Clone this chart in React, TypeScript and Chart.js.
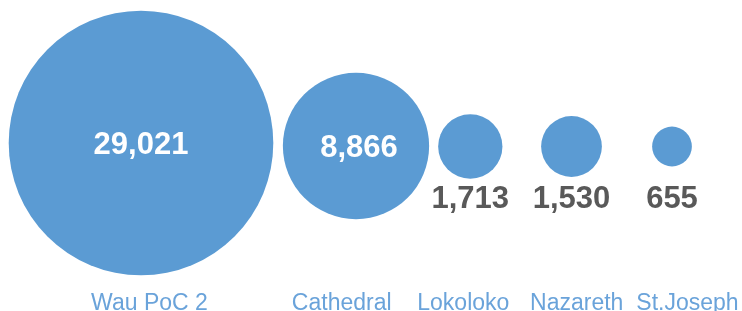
import React, { useEffect, useRef } from "react";
import { Chart, registerables } from "chart.js";

Chart.register(...registerables);

// ---- data ----
const categories = ["Wau PoC 2", "Cathedral", "Lokoloko", "Nazareth", "St.Joseph"];
const values = [29021, 8866, 1713, 1530, 655];
// bubble centres in (hidden) axis units
const bubbleX = [141, 356, 470.3, 571.5, 672];
const bubbleY = [143, 146, 146.5, 146.5, 146.5];
// category label centres in x-axis units
const labelX = [149.5, 341.7, 463.3, 576.7, 687.5];

const BUBBLE_COLOR = "#5b9bd3";
const LABEL_COLOR = "#6aa3da";
const VALUE_DARK = "#595959";
const FONT = "'Liberation Sans', Arial, Helvetica, sans-serif";
const RADIUS_K = 132.3 / Math.sqrt(29021); // area-proportional radius

const fmt = (v: number) => v.toLocaleString("en-US");

const labelPlugin = {
  id: "bubbleLabels",
  afterDatasetsDraw(chart: any) {
    const ctx = chart.ctx as CanvasRenderingContext2D;
    const meta = chart.getDatasetMeta(0);
    const xScale = chart.scales.x;
    ctx.save();
    ctx.textAlign = "center";
    ctx.textBaseline = "alphabetic";
    meta.data.forEach((el: any, i: number) => {
      const r = el.options.radius;
      ctx.font = `bold 31px ${FONT}`;
      if (r > 50) {
        ctx.fillStyle = "#ffffff";
        ctx.fillText(fmt(values[i]), el.x + (r < 100 ? 3 : 0), el.y + 10.5);
      } else {
        ctx.fillStyle = VALUE_DARK;
        ctx.fillText(fmt(values[i]), el.x, el.y + 61);
      }
      ctx.font = `300 23px ${FONT}`;
      ctx.fillStyle = LABEL_COLOR;
      ctx.fillText(categories[i], xScale.getPixelForValue(labelX[i]), 309.5);
    });
    ctx.restore();
  },
};

export default function App() {
  const ref = useRef<HTMLCanvasElement | null>(null);
  useEffect(() => {
    if (!ref.current) return;
    const chart = new Chart(ref.current, {
      type: "bubble",
      data: {
        labels: categories,
        datasets: [
          {
            data: values.map((v, i) => ({ x: bubbleX[i], y: bubbleY[i], r: RADIUS_K * Math.sqrt(v) })),
            backgroundColor: BUBBLE_COLOR,
            borderWidth: 0,
            hoverRadius: 0,
            clip: false as any,
          },
        ],
      },
      options: {
        animation: false,
        responsive: false,
        events: [],
        layout: { padding: 0, autoPadding: false },
        scales: {
          x: { type: "linear", min: 0, max: 742, display: false },
          y: { type: "linear", min: 0, max: 311, reverse: true, display: false },
        },
        plugins: { legend: { display: false }, tooltip: { enabled: false } },
      },
      plugins: [labelPlugin],
    });
    return () => chart.destroy();
  }, []);
  return (
    <div style={{ position: "absolute", left: 0, top: 0, width: 742, height: 311 }}>
      <canvas ref={ref} width={742} height={311} style={{ display: "block" }} />
    </div>
  );
}
